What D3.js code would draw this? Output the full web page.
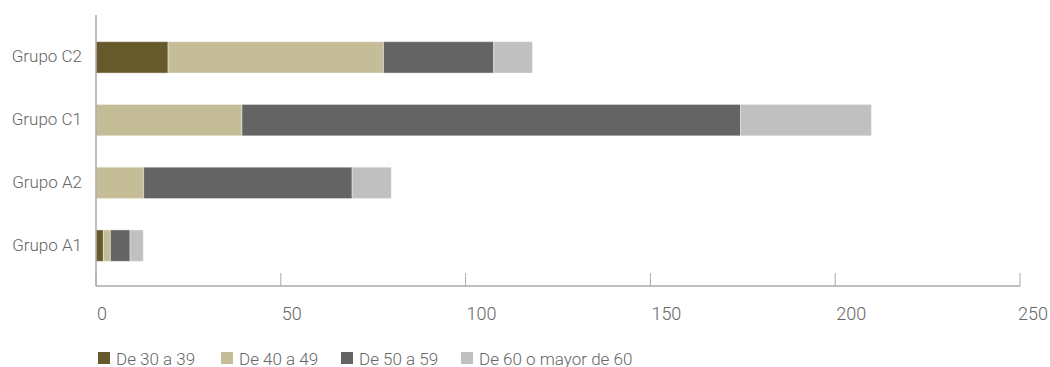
<!DOCTYPE html>
<html><head><meta charset="utf-8">
<script src="https://cdn.jsdelivr.net/npm/d3@7"></script>
<style>
body{margin:0;background:#fff;}
svg text{font-family:Roboto,"Noto Sans",sans-serif;fill:#666;font-weight:300;}
</style></head>
<body><svg id="c" width="1050" height="367"></svg>
<script>
const categories = ["Grupo C2","Grupo C1","Grupo A2","Grupo A1"];
const seriesNames = ["De 30 a 39","De 40 a 49","De 50 a 59","De 60 o mayor de 60"];
const s30 = [19.5, 0, 0, 2.0];
const s40 = [58.3, 39.5, 12.9, 1.9];
const s50 = [29.8, 134.9, 56.4, 5.3];
const s60 = [10.5, 35.4, 10.6, 3.6];
const tickValues = [0,50,100,150,200,250];
const colors = ["#665a2c","#c5bd98","#646464","#c0c0c0"];

const svg = d3.select("#c");
const x = d3.scaleLinear().domain([0,250]).range([96,1020]);
const y = d3.scaleBand().domain(categories).range([26,277]).paddingInner(0.5).paddingOuter(0.25);

const rows = categories.map((c,i)=>({cat:c, "0":s30[i], "1":s40[i], "2":s50[i], "3":s60[i]}));
const stack = d3.stack().keys(["0","1","2","3"])(rows);

svg.append("g").selectAll("g").data(stack).join("g")
  .attr("fill",(d,i)=>colors[i])
  .selectAll("rect").data(d=>d).join("rect")
  .attr("x",d=>x(d[0]))
  .attr("y",d=>y(d.data.cat))
  .attr("width",d=>Math.max(0,x(d[1])-x(d[0])))
  .attr("height",y.bandwidth())
  .attr("stroke","#fff").attr("stroke-opacity",0.4).attr("stroke-width",1);

svg.append("line").attr("x1",96).attr("x2",96).attr("y1",15).attr("y2",286)
  .attr("stroke","#aaa").attr("stroke-width",1.5);
svg.append("line").attr("x1",96).attr("x2",1020).attr("y1",286).attr("y2",286)
  .attr("stroke","#aaa").attr("stroke-width",1.5);
svg.append("g").selectAll("line").data(tickValues).join("line")
  .attr("x1",d=>x(d)).attr("x2",d=>x(d)).attr("y1",273).attr("y2",286)
  .attr("stroke","#aaa").attr("stroke-width",1);
svg.append("g").selectAll("text").data(tickValues).join("text")
  .attr("x",(d,i)=> i===tickValues.length-1 ? 1048 : x(d)+1)
  .attr("y",320)
  .attr("text-anchor",(d,i)=> i===tickValues.length-1 ? "end":"start")
  .style("font-size","18px")
  .text(d=>d);

svg.append("g").selectAll("text").data(categories).join("text")
  .attr("x",82).attr("y",d=>y(d)+y.bandwidth()/2 - 1)
  .attr("dy","0.35em").attr("text-anchor","end")
  .style("font-size","17px")
  .text(d=>d);

const legX = [98,221,341,461];
const lg = svg.append("g").selectAll("g").data(seriesNames).join("g")
  .attr("transform",(d,i)=>`translate(${legX[i]},352)`);
lg.append("rect").attr("width",12).attr("height",12).attr("fill",(d,i)=>colors[i]);
lg.append("text").attr("x",18).attr("y",12.5).style("font-size","17px").text(d=>d);
</script></body></html>
